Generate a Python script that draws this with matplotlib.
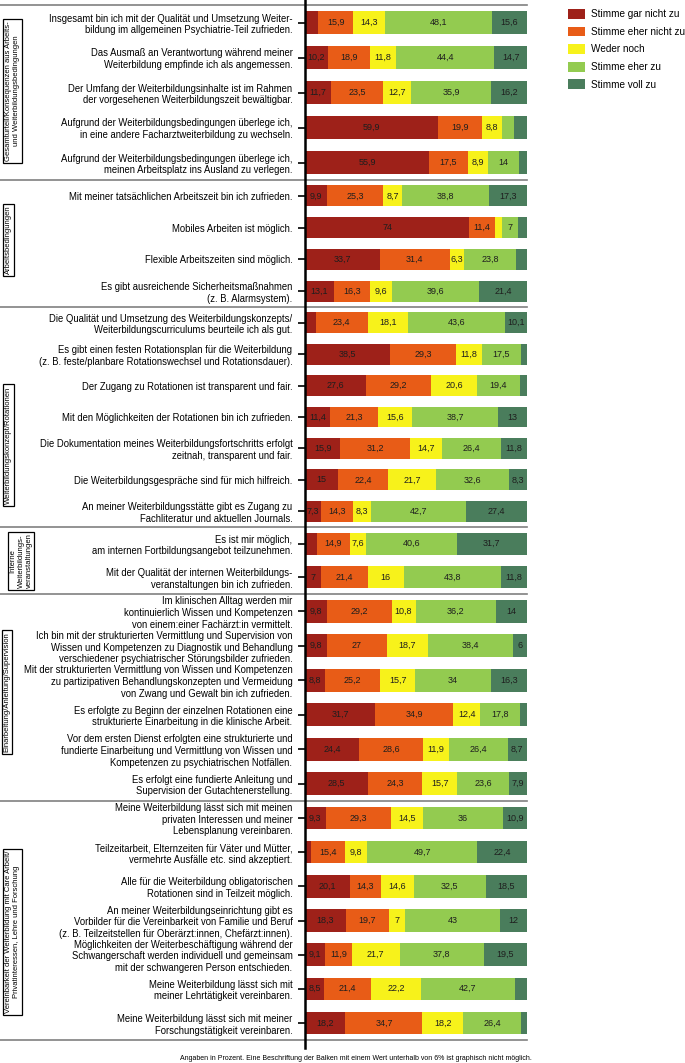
import numpy as np
import matplotlib
matplotlib.use("Agg")
import matplotlib.pyplot as plt
from matplotlib.lines import Line2D

plt.rcParams['font.family'] = ['Liberation Sans', 'DejaVu Sans']

names = ["Stimme gar nicht zu", "Stimme eher nicht zu", "Weder noch",
         "Stimme eher zu", "Stimme voll zu"]
colors = ["#9e2119", "#e85c17", "#f7f21b", "#93cb50", "#4a7d5c"]

group_titles = [
    "Gesamturteil/Konsequenzen aus Arbeits-\nund Weiterbildungsbedingungen",
    "Arbeitsbedingungen",
    "Weiterbildungskonzept/Rotationen",
    "Interne\nWeiterbildungs-\nveranstaltungen",
    "Einarbeitung/Anleitung/Supervision",
    "Vereinbarkeit der Weiterbildung mit Care Arbeit/\nPrivatinteressen, Lehre und Forschung",
]
group_sizes = [5, 4, 7, 2, 6, 7]

items = [
    "Insgesamt bin ich mit der Qualität und Umsetzung Weiter-\nbildung im allgemeinen Psychiatrie-Teil zufrieden.",
    "Das Ausmaß an Verantwortung während meiner\nWeiterbildung empfinde ich als angemessen.",
    "Der Umfang der Weiterbildungsinhalte ist im Rahmen\nder vorgesehenen Weiterbildungszeit bewältigbar.",
    "Aufgrund der Weiterbildungsbedingungen überlege ich,\nin eine andere Facharztweiterbildung zu wechseln.",
    "Aufgrund der Weiterbildungsbedingungen überlege ich,\nmeinen Arbeitsplatz ins Ausland zu verlegen.",
    "Mit meiner tatsächlichen Arbeitszeit bin ich zufrieden.",
    "Mobiles Arbeiten ist möglich.",
    "Flexible Arbeitszeiten sind möglich.",
    "Es gibt ausreichende Sicherheitsmaßnahmen\n(z. B. Alarmsystem).",
    "Die Qualität und Umsetzung des Weiterbildungskonzepts/\nWeiterbildungscurriculums beurteile ich als gut.",
    "Es gibt einen festen Rotationsplan für die Weiterbildung\n(z. B. feste/planbare Rotationswechsel und Rotationsdauer).",
    "Der Zugang zu Rotationen ist transparent und fair.",
    "Mit den Möglichkeiten der Rotationen bin ich zufrieden.",
    "Die Dokumentation meines Weiterbildungsfortschritts erfolgt\nzeitnah, transparent und fair.",
    "Die Weiterbildungsgespräche sind für mich hilfreich.",
    "An meiner Weiterbildungsstätte gibt es Zugang zu\nFachliteratur und aktuellen Journals.",
    "Es ist mir möglich,\nam internen Fortbildungsangebot teilzunehmen.",
    "Mit der Qualität der internen Weiterbildungs-\nveranstaltungen bin ich zufrieden.",
    "Im klinischen Alltag werden mir\nkontinuierlich Wissen und Kompetenzen\nvon einem:einer Fachärzt:in vermittelt.",
    "Ich bin mit der strukturierten Vermittlung und Supervision von\nWissen und Kompetenzen zu Diagnostik und Behandlung\nverschiedener psychiatrischer Störungsbilder zufrieden.",
    "Mit der strukturierten Vermittlung von Wissen und Kompetenzen\nzu partizipativen Behandlungskonzepten und Vermeidung\nvon Zwang und Gewalt bin ich zufrieden.",
    "Es erfolgte zu Beginn der einzelnen Rotationen eine\nstrukturierte Einarbeitung in die klinische Arbeit.",
    "Vor dem ersten Dienst erfolgten eine strukturierte und\nfundierte Einarbeitung und Vermittlung von Wissen und\nKompetenzen zu psychiatrischen Notfällen.",
    "Es erfolgt eine fundierte Anleitung und\nSupervision der Gutachtenerstellung.",
    "Meine Weiterbildung lässt sich mit meinen\nprivaten Interessen und meiner\nLebensplanung vereinbaren.",
    "Teilzeitarbeit, Elternzeiten für Väter und Mütter,\nvermehrte Ausfälle etc. sind akzeptiert.",
    "Alle für die Weiterbildung obligatorischen\nRotationen sind in Teilzeit möglich.",
    "An meiner Weiterbildungseinrichtung gibt es\nVorbilder für die Vereinbarkeit von Familie und Beruf\n(z. B. Teilzeitstellen für Oberärzt:innen, Chefärzt:innen).",
    "Möglichkeiten der Weiterbeschäftigung während der\nSchwangerschaft werden individuell und gemeinsam\nmit der schwangeren Person entschieden.",
    "Meine Weiterbildung lässt sich mit\nmeiner Lehrtätigkeit vereinbaren.",
    "Meine Weiterbildung lässt sich mit meiner\nForschungstätigkeit vereinbaren.",
]

gar_nicht = [5.9, 10.2, 11.7, 59.9, 55.9, 9.9, 74, 33.7, 13.1, 4.8, 38.5, 27.6,
             11.4, 15.9, 15, 7.3, 5.2, 7, 9.8, 9.8, 8.8, 31.7, 24.4, 28.5, 9.3,
             2.7, 20.1, 18.3, 9.1, 8.5, 18.2]
eher_nicht = [15.9, 18.9, 23.5, 19.9, 17.5, 25.3, 11.4, 31.4, 16.3, 23.4, 29.3,
              29.2, 21.3, 31.2, 22.4, 14.3, 14.9, 21.4, 29.2, 27, 25.2, 34.9,
              28.6, 24.3, 29.3, 15.4, 14.3, 19.7, 11.9, 21.4, 34.7]
weder = [14.3, 11.8, 12.7, 8.8, 8.9, 8.7, 3.4, 6.3, 9.6, 18.1, 11.8, 20.6, 15.6,
         14.7, 21.7, 8.3, 7.6, 16, 10.8, 18.7, 15.7, 12.4, 11.9, 15.7, 14.5, 9.8,
         14.6, 7, 21.7, 22.2, 18.2]
eher_zu = [48.1, 44.4, 35.9, 5.5, 14, 38.8, 7, 23.8, 39.6, 43.6, 17.5, 19.4,
           38.7, 26.4, 32.6, 42.7, 40.6, 43.8, 36.2, 38.4, 34, 17.8, 26.4, 23.6,
           36, 49.7, 32.5, 43, 37.8, 42.7, 26.4]
voll = [15.6, 14.7, 16.2, 5.9, 3.7, 17.3, 4.2, 4.8, 21.4, 10.1, 2.9, 3.2, 13,
        11.8, 8.3, 27.4, 31.7, 11.8, 14, 6, 16.3, 3.2, 8.7, 7.9, 10.9, 22.4,
        18.5, 12, 19.5, 5.2, 2.5]
series = [gar_nicht, eher_nicht, weder, eher_zu, voll]

footnote = ("Angaben in Prozent. Eine Beschriftung der Balken mit einem Wert "
            "unterhalb von 6% ist graphisch nicht möglich.")


def fmt(v):
    s = ("%.1f" % v).replace(".", ",")
    return s[:-2] if s.endswith(",0") else s


# layout in pixels
W, H = 685, 1063
x0, x1 = 305, 527
seps = [5, 180, 307, 527, 594, 801, 1040]
title_pos = [(12.5, 91), (8.5, 240), (8.5, 445), (21, 561), (7, 692), (12.5, 932)]

fig = plt.figure(figsize=(W / 100, H / 100), dpi=100)

start = 0
handles = None
for g, n in enumerate(group_sizes):
    top, bot = seps[g], seps[g + 1]
    ax = fig.add_axes([x0 / W, 1 - bot / H, (x1 - x0) / W, (bot - top) / H])
    y = np.arange(n)
    left = np.zeros(n)
    conts = []
    for vals, col, name in zip(series, colors, names):
        v = np.array(vals[start:start + n], dtype=float)
        bars = ax.barh(y, v, left=left, height=0.66, color=col, label=name)
        conts.append(bars)
        labs = [fmt(x) if x >= 6 else "" for x in v]
        ax.bar_label(bars, labels=labs, label_type="center", fontsize=6.5,
                     color="#1e1e1e")
        left += v
    if handles is None:
        handles = conts
    ax.set_xlim(0, 100)
    ax.set_ylim(n - 0.5, -0.5)
    ax.set_yticks(y, items[start:start + n], fontsize=6.85)
    ax.tick_params(axis="y", length=5, width=1.2, pad=4)
    ax.set_xticks([])
    for s in ax.spines.values():
        s.set_visible(False)
    ax.patch.set_visible(False)

    cx, cy = title_pos[g]
    fig.text(cx / W, 1 - cy / H, group_titles[g], rotation=90, ha="center",
             va="center", multialignment="center", fontsize=5.5,
             bbox=dict(boxstyle="square,pad=0.25", fc="white", ec="black", lw=0.9))
    start += n

# separators and the main vertical axis
for yy in seps:
    fig.add_artist(Line2D([0, x1 / W], [1 - yy / H] * 2, color="#808080", lw=1.2))
fig.add_artist(Line2D([x0 / W] * 2, [1.0, 1 - 1048 / H], color="black", lw=1.8))

fig.legend(handles, names, loc="upper left", bbox_to_anchor=(565 / W, 1 - 6 / H),
           frameon=False, fontsize=7.2, handlelength=1.7, handleheight=1.15,
           labelspacing=0.72, handletextpad=0.6, borderaxespad=0, borderpad=0.3)

fig.text(356 / W, 1 - 1058 / H, footnote, ha="center", va="center", fontsize=5)

fig.savefig("out.png", dpi=100)
